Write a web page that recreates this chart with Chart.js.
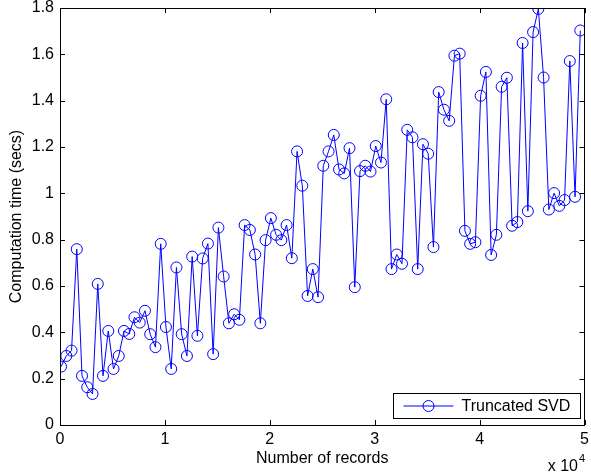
<!DOCTYPE html>
<html>
<head>
<meta charset="utf-8">
<script src="https://cdn.jsdelivr.net/npm/chart.js@4.4.0/dist/chart.umd.min.js"></script>
<style>
  html, body { margin: 0; padding: 0; background: #fff; }
</style>
</head>
<body>
<canvas id="svdChart" width="591" height="476"></canvas>
<script>
// number of records for each run
const recordCounts = [
  100, 600, 1100, 1600, 2100, 2600, 3100, 3600, 4100, 4600,
  5100, 5600, 6100, 6600, 7100, 7600, 8100, 8600, 9100, 9600,
  10100, 10600, 11100, 11600, 12100, 12600, 13100, 13600, 14100, 14600,
  15100, 15600, 16100, 16600, 17100, 17600, 18100, 18600, 19100, 19600,
  20100, 20600, 21100, 21600, 22100, 22600, 23100, 23600, 24100, 24600,
  25100, 25600, 26100, 26600, 27100, 27600, 28100, 28600, 29100, 29600,
  30100, 30600, 31100, 31600, 32100, 32600, 33100, 33600, 34100, 34600,
  35100, 35600, 36100, 36600, 37100, 37600, 38100, 38600, 39100, 39600,
  40100, 40600, 41100, 41600, 42100, 42600, 43100, 43600, 44100, 44600,
  45100, 45600, 46100, 46600, 47100, 47600, 48100, 48600, 49100, 49600
];

// computation time (secs)
const svdTimes = [
  0.252, 0.298, 0.321, 0.759, 0.212, 0.163, 0.134, 0.609, 0.212, 0.406,
  0.242, 0.298, 0.406, 0.393, 0.465, 0.442, 0.493, 0.392, 0.336, 0.782,
  0.423, 0.242, 0.680, 0.392, 0.298, 0.727, 0.385, 0.719, 0.783, 0.306,
  0.852, 0.641, 0.439, 0.478, 0.454, 0.863, 0.842, 0.736, 0.439, 0.798,
  0.893, 0.821, 0.798, 0.863, 0.720, 1.181, 1.033, 0.557, 0.673, 0.552,
  1.119, 1.181, 1.252, 1.103, 1.086, 1.195, 0.595, 1.096, 1.119, 1.094,
  1.204, 1.133, 1.406, 0.673, 0.736, 0.696, 1.274, 1.242, 0.673, 1.212,
  1.171, 0.768, 1.437, 1.361, 1.313, 1.594, 1.603, 0.838, 0.782, 0.789,
  1.421, 1.524, 0.734, 0.821, 1.460, 1.499, 0.860, 0.876, 1.649, 0.923,
  1.696, 1.796, 1.500, 0.930, 1.001, 0.946, 0.971, 1.571, 0.985, 1.703
];

const xTickValues = [0, 10000, 20000, 30000, 40000, 50000];
const xTickLabels = ['0', '1', '2', '3', '4', '5'];
const yTickValues = [0, 0.2, 0.4, 0.6, 0.8, 1, 1.2, 1.4, 1.6, 1.8];
const yTickLabels = ['0', '0.2', '0.4', '0.6', '0.8', '1', '1.2', '1.4', '1.6', '1.8'];

const seriesName = 'Truncated SVD';
const xTitle = 'Number of records';
const yTitle = 'Computation time (secs)';

const fontFamily = '"Liberation Sans", Arial, Helvetica, sans-serif';
const fontSize = 16;
const blue = '#0000ff';

const points = recordCounts.map((n, i) => ({ x: n, y: svdTimes[i] }));

// matlab style box, inward ticks, legend and the x 10^4 note
const matlabFrame = {
  id: 'matlabFrame',
  afterDraw(chart) {
    const ctx = chart.ctx;
    const a = chart.chartArea;
    const xs = chart.scales.x;
    const ys = chart.scales.y;
    const tl = 5;
    ctx.save();
    ctx.strokeStyle = '#000';
    ctx.lineWidth = 1;
    ctx.strokeRect(Math.round(a.left) + 0.5, Math.round(a.top) + 0.5,
      Math.round(a.right - a.left) - 1, Math.round(a.bottom - a.top));

    ctx.beginPath();
    xs.ticks.forEach(t => {
      const px = Math.round(xs.getPixelForValue(t.value)) + 0.5;
      ctx.moveTo(px, a.bottom); ctx.lineTo(px, a.bottom - tl);
      ctx.moveTo(px, a.top); ctx.lineTo(px, a.top + tl);
    });
    ys.ticks.forEach(t => {
      const py = Math.round(ys.getPixelForValue(t.value)) + 0.5;
      ctx.moveTo(a.left, py); ctx.lineTo(a.left + tl, py);
      ctx.moveTo(a.right, py); ctx.lineTo(a.right - tl, py);
    });
    ctx.stroke();

    // legend
    const lw = 187, lh = 25;
    const lx = Math.round(a.right - 5 - lw) + 0.5;
    const ly = Math.round(a.bottom - 7 - lh) + 0.5;
    ctx.fillStyle = '#fff';
    ctx.fillRect(lx, ly, lw, lh);
    ctx.strokeStyle = '#000';
    ctx.strokeRect(lx, ly, lw, lh);
    const cy = ly + lh / 2;
    ctx.strokeStyle = blue;
    ctx.beginPath();
    ctx.moveTo(lx + 10, cy); ctx.lineTo(lx + 60, cy);
    ctx.stroke();
    ctx.beginPath();
    ctx.arc(lx + 35, cy, 5.5, 0, Math.PI * 2);
    ctx.stroke();
    ctx.fillStyle = '#000';
    ctx.font = fontSize + 'px ' + fontFamily;
    ctx.textBaseline = 'middle';
    ctx.textAlign = 'left';
    ctx.fillText(seriesName, lx + 68, cy + 1);

    // x 10^4
    ctx.textBaseline = 'alphabetic';
    ctx.textAlign = 'right';
    ctx.fillText('x 10', 578, 471);
    ctx.textAlign = 'left';
    ctx.font = '11px ' + fontFamily;
    ctx.fillText('4', 579, 462);
    ctx.restore();
  }
};

new Chart(document.getElementById('svdChart'), {
  type: 'line',
  data: {
    datasets: [{
      label: seriesName,
      data: points,
      borderColor: blue,
      borderWidth: 1,
      backgroundColor: 'rgba(0,0,0,0)',
      pointStyle: 'circle',
      pointRadius: 5.5,
      pointBorderColor: blue,
      pointBackgroundColor: 'rgba(0,0,0,0)',
      pointBorderWidth: 1,
      tension: 0,
      fill: false
    }]
  },
  options: {
    responsive: false,
    animation: false,
    devicePixelRatio: 1,
    layout: { padding: { top: 8, right: 4, left: 0, bottom: 0 } },
    plugins: {
      legend: { display: false },
      tooltip: { enabled: false }
    },
    scales: {
      x: {
        type: 'linear',
        min: 0,
        max: 50000,
        afterBuildTicks: s => { s.ticks = xTickValues.map(v => ({ value: v })); },
        afterFit: s => { s.height = 51; s.paddingLeft = 0; s.paddingRight = 0; },
        grid: { display: false, drawTicks: false },
        border: { display: false },
        ticks: {
          padding: 5,
          color: '#000',
          maxRotation: 0,
          autoSkip: false,
          font: { family: fontFamily, size: fontSize },
          callback: (v, i) => xTickLabels[i]
        },
        title: {
          display: true,
          text: xTitle,
          color: '#000',
          font: { family: fontFamily, size: fontSize },
          padding: { top: 0, bottom: 8 }
        }
      },
      y: {
        type: 'linear',
        min: 0,
        max: 1.8,
        afterBuildTicks: s => { s.ticks = yTickValues.map(v => ({ value: v })); },
        afterFit: s => { s.width = 60; s.paddingTop = 0; s.paddingBottom = 0; },
        grid: { display: false, drawTicks: false },
        border: { display: false },
        ticks: {
          padding: 6,
          color: '#000',
          autoSkip: false,
          font: { family: fontFamily, size: fontSize },
          callback: (v, i) => yTickLabels[i]
        },
        title: {
          display: true,
          text: yTitle,
          color: '#000',
          font: { family: fontFamily, size: fontSize },
          padding: { top: 7, bottom: 0 }
        }
      }
    }
  },
  plugins: [matlabFrame]
});
</script>
</body>
</html>
